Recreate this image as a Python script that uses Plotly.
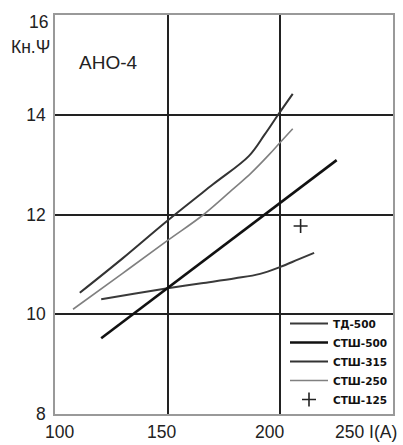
import plotly.graph_objects as go

# ---- data ----
td500_I = [120.5, 135, 150, 165, 180, 191, 200, 208, 215]
td500_K = [10.30, 10.41, 10.52, 10.62, 10.72, 10.81, 10.95, 11.10, 11.23]

stsh500_I = [120.5, 225]
stsh500_K = [9.52, 13.09]

stsh315_I = [111, 130, 150, 170, 186, 193, 199, 205.5]
stsh315_K = [10.43, 11.12, 11.88, 12.6, 13.17, 13.6, 14.0, 14.42]

stsh250_I = [108, 130, 150, 166, 180, 187, 195, 200, 205.5]
stsh250_K = [10.1, 10.82, 11.48, 12.0, 12.55, 12.83, 13.2, 13.45, 13.72]

stsh125_I = [209]
stsh125_K = [11.77]

series_names = ["ТД-500", "СТШ-500", "СТШ-315", "СТШ-250", "СТШ-125"]
x_tick_vals = [100, 150, 200, 250]
x_tick_text = ["100", "150", "200", "250 I(A)"]
y_tick_vals = [8, 10, 12, 14]
y_title = "Кн.Ψ"
chart_label = "АНО-4"

MAIN = "Liberation Sans, Arial, sans-serif"
LEG = "DejaVu Sans, sans-serif"
FS = 17.5

fig = go.Figure()
fig.add_trace(go.Scatter(x=td500_I, y=td500_K, mode="lines", name=series_names[0],
                         line=dict(color="#3a3a3a", width=2, shape="spline")))
fig.add_trace(go.Scatter(x=stsh500_I, y=stsh500_K, mode="lines", name=series_names[1],
                         line=dict(color="#111111", width=2.6)))
fig.add_trace(go.Scatter(x=stsh315_I, y=stsh315_K, mode="lines", name=series_names[2],
                         line=dict(color="#333333", width=2, shape="spline")))
fig.add_trace(go.Scatter(x=stsh250_I, y=stsh250_K, mode="lines", name=series_names[3],
                         line=dict(color="#808080", width=1.6, shape="spline")))
fig.add_trace(go.Scatter(x=stsh125_I, y=stsh125_K, mode="markers", name=series_names[4],
                         marker=dict(symbol="cross-thin", size=10, color="#222",
                                     line=dict(width=1.6, color="#222"))))

annotations = []
# x tick labels (offset as in the reference)
x_label_shift = [4, -6, -11, 0]
for v, t, s in zip(x_tick_vals, x_tick_text, x_label_shift):
    if v == 250:
        annotations.append(dict(x=v, xref="x", y=0, yref="paper", text=t, showarrow=False,
                                xanchor="left", yanchor="top", xshift=-60, yshift=-6,
                                font=dict(family=MAIN, size=FS, color="#222")))
    else:
        annotations.append(dict(x=v, xref="x", y=0, yref="paper", text=t, showarrow=False,
                                xanchor="center", yanchor="top", xshift=s, yshift=-6,
                                font=dict(family=MAIN, size=FS, color="#222")))
annotations.append(dict(x=0, xref="paper", y=16, yref="y", text="16", showarrow=False,
                        xanchor="right", yanchor="middle", xshift=-5, yshift=-7,
                        font=dict(family=MAIN, size=FS, color="#222")))
annotations.append(dict(x=0, xref="paper", y=16, yref="y", text=y_title, showarrow=False,
                        xanchor="right", yanchor="middle", xshift=-3, yshift=-32,
                        font=dict(family=MAIN, size=FS, color="#222")))
annotations.append(dict(x=109.6, xref="x", y=15.04, yref="y", text=chart_label, showarrow=False,
                        xanchor="left", yanchor="middle",
                        font=dict(family=MAIN, size=19, color="#222")))

fig.update_layout(
    width=403, height=445,
    margin=dict(l=55, r=10, t=15, b=31, autoexpand=False),
    paper_bgcolor="white", plot_bgcolor="white",
    showlegend=True,
    legend=dict(x=1.0, y=0.0, xanchor="right", yanchor="bottom",
                bgcolor="rgba(0,0,0,0)", borderwidth=0,
                font=dict(family=LEG, size=10.5, color="#111", weight="bold"),
                itemwidth=38, tracegroupgap=0),
    annotations=annotations,
)
fig.update_xaxes(range=[100, 250], tickvals=[150, 200], showticklabels=False,
                 showgrid=True, gridcolor="#222", gridwidth=1.5, automargin=False,
                 zeroline=False, showline=True, linecolor="#999", linewidth=1.5, mirror=True,
                 ticks="")
fig.update_yaxes(range=[8, 16], tickvals=y_tick_vals, ticktext=[str(v) for v in y_tick_vals],
                 showgrid=True, gridcolor="#222", gridwidth=1.5, automargin=False,
                 zeroline=False, showline=True, linecolor="#999", linewidth=1.5, mirror=True,
                 ticks="", ticklabelstandoff=4,
                 tickfont=dict(family=MAIN, size=FS, color="#222"))

fig.write_html("out.html")
